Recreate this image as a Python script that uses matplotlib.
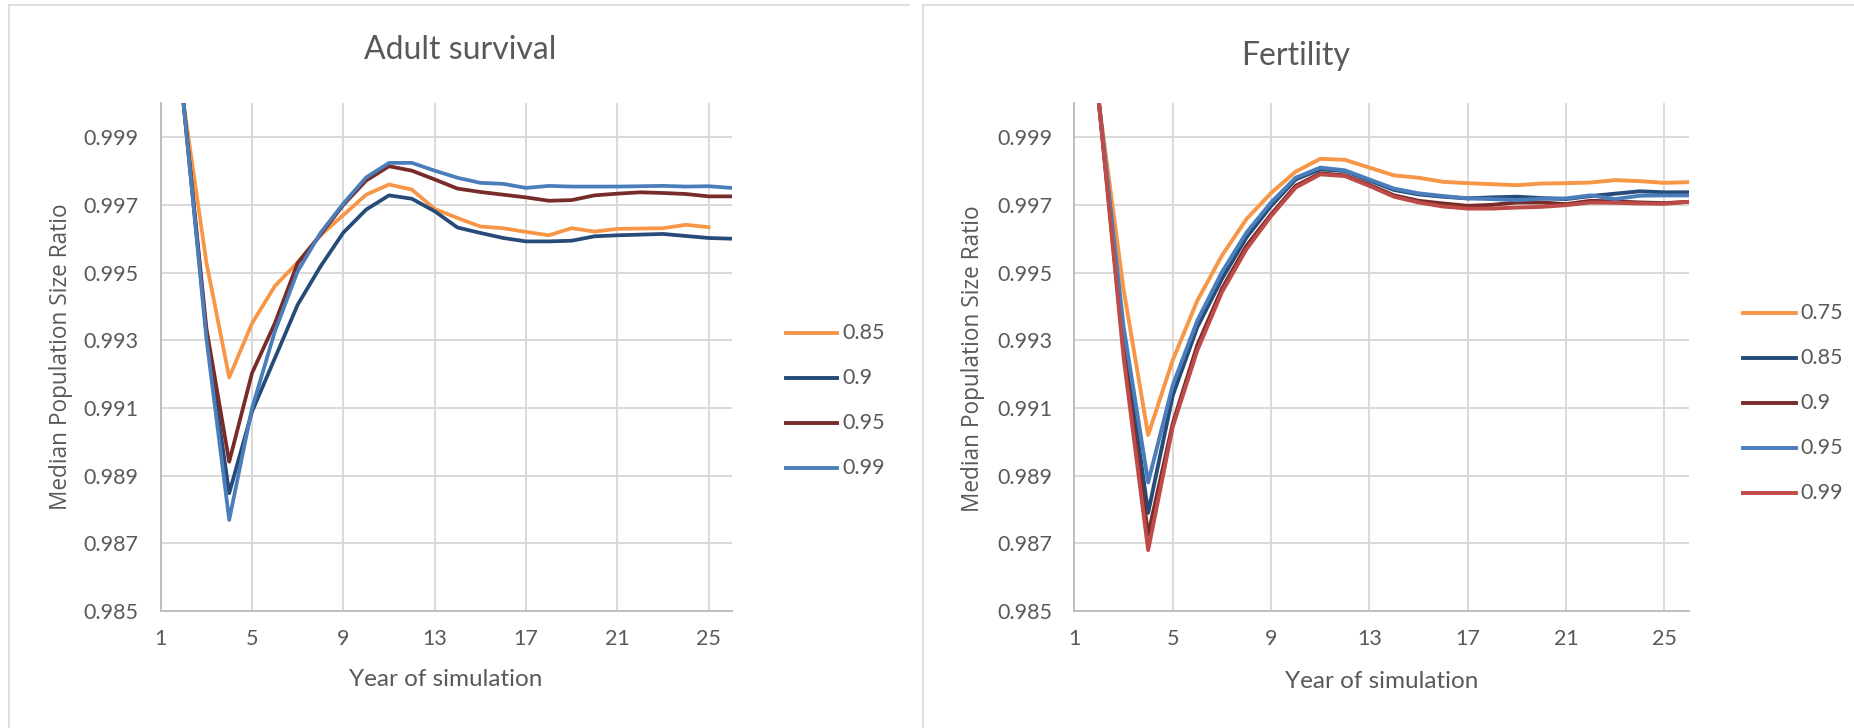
import matplotlib
matplotlib.use("Agg")
import matplotlib.pyplot as plt
from matplotlib.lines import Line2D
import numpy as np

W, H = 1854, 728

# ---- data: median population size ratio per simulation year ----
years = list(range(2, 27))

survival_labels = ["0.85", "0.9", "0.95", "0.99"]
surv_085 = [1.0, 0.9953, 0.9919, 0.9935, 0.9946, 0.9953, 0.9961, 0.9967, 0.9973,
            0.9976, 0.99745, 0.99688, 0.99661, 0.99636, 0.99631, 0.9962, 0.9961,
            0.99631, 0.99621, 0.99629, 0.9963, 0.99631, 0.99641, 0.99634]
surv_090 = [1.0, 0.99321, 0.98848, 0.99089, 0.99247, 0.99405, 0.99518, 0.99618,
            0.99686, 0.99728, 0.99718, 0.99681, 0.99633, 0.99617, 0.99602, 0.99592,
            0.99592, 0.99594, 0.99607, 0.9961, 0.99612, 0.99614, 0.99608, 0.99602,
            0.996]
surv_095 = [1.0, 0.99336, 0.98941, 0.99203, 0.9935, 0.99528, 0.99612, 0.997,
            0.99772, 0.99814, 0.99801, 0.99775, 0.99748, 0.99738, 0.9973, 0.99722,
            0.99712, 0.99714, 0.99728, 0.99733, 0.99737, 0.99735, 0.99732, 0.99725,
            0.99725]
surv_099 = [1.0, 0.99306, 0.98769, 0.99099, 0.99326, 0.99504, 0.99617, 0.99704,
            0.99781, 0.99824, 0.99824, 0.99801, 0.9978, 0.99765, 0.99762, 0.9975,
            0.99756, 0.99754, 0.99754, 0.99754, 0.99755, 0.99756, 0.99754, 0.99755,
            0.9975]

fertility_labels = ["0.75", "0.85", "0.9", "0.95", "0.99"]
fert_075 = [1.0, 0.9945, 0.9902, 0.99241, 0.99417, 0.9955, 0.99658, 0.99735,
            0.99798, 0.99836, 0.99833, 0.9981, 0.99787, 0.9978, 0.99768, 0.99764,
            0.99761, 0.99758, 0.99763, 0.99764, 0.99766, 0.99773, 0.9977, 0.99765,
            0.99767]
fert_085 = [1.0, 0.9931, 0.9879, 0.99137, 0.99339, 0.99481, 0.99604, 0.99697,
            0.99775, 0.99805, 0.998, 0.99772, 0.99744, 0.99731, 0.99724, 0.99719,
            0.99722, 0.99724, 0.9972, 0.99717, 0.99726, 0.99733, 0.9974, 0.99737,
            0.99737]
fert_090 = [1.0, 0.9927, 0.98725, 0.99054, 0.99285, 0.99452, 0.99579, 0.99672,
            0.99756, 0.99793, 0.99787, 0.99759, 0.99728, 0.99712, 0.99704, 0.99697,
            0.997, 0.99707, 0.99707, 0.99702, 0.99712, 0.9971, 0.99707, 0.99705,
            0.99709]
fert_095 = [1.0, 0.9934, 0.9888, 0.99167, 0.99358, 0.99501, 0.99618, 0.99707,
            0.9978, 0.9981, 0.99802, 0.99775, 0.99748, 0.99734, 0.99726, 0.99719,
            0.99717, 0.99714, 0.99718, 0.99719, 0.99728, 0.99717, 0.99727, 0.99728,
            0.99728]
fert_099 = [1.0, 0.9925, 0.9868, 0.99044, 0.9927, 0.99442, 0.99569, 0.99667,
            0.99751, 0.9979, 0.99785, 0.99756, 0.99724, 0.99707, 0.99695, 0.99689,
            0.99689, 0.99692, 0.99694, 0.99699, 0.99707, 0.99706, 0.99704, 0.99703,
            0.99709]

x_ticks = [1, 5, 9, 13, 17, 21, 25]
y_ticks = [0.985, 0.987, 0.989, 0.991, 0.993, 0.995, 0.997, 0.999]

ORANGE = "#F79646"
NAVY = "#264B78"
MAROON = "#772C2A"
BLUE = "#4A7EBB"
RED = "#BE4B48"
GRID = "#D9D9D9"
TEXT = "#595959"
FONT = "Lato"


def px_rect(x0, y0, x1, y1):
    """Pixel box (top-left origin) -> figure fraction rect."""
    return [x0 / W, 1 - y1 / H, (x1 - x0) / W, (y1 - y0) / H]


def fx(x):
    return x / W


def fy(y):
    return 1 - y / H


def setup_axes(ax):
    ax.set_xlim(1, 26)
    ax.set_ylim(0.985, 1.0)
    ax.set_xticks(x_ticks)
    ax.set_yticks(y_ticks)
    ax.set_yticklabels([f"{v:.3f}" for v in y_ticks])
    ax.grid(True, color=GRID, lw=1.4)
    ax.set_axisbelow(True)
    for side in ["top", "right"]:
        ax.spines[side].set_visible(False)
    for side in ["left", "bottom"]:
        ax.spines[side].set_color("#BFBFBF")
        ax.spines[side].set_linewidth(1.4)
    ax.tick_params(axis="both", length=0, labelsize=15.5, labelcolor=TEXT)
    ax.tick_params(axis="y", pad=16)
    ax.tick_params(axis="x", pad=13)
    for lab in ax.get_xticklabels() + ax.get_yticklabels():
        lab.set_fontfamily(FONT)


def draw_legend(fig, labels, colors, x0, x1, y_first, step=45):
    for i, (lab, col) in enumerate(zip(labels, colors)):
        y = y_first + i * step
        fig.add_artist(Line2D([fx(x0), fx(x1)], [fy(y), fy(y)], color=col, lw=2.8,
                              transform=fig.transFigure))
        fig.text(fx(x1 + 5), fy(y), lab, fontsize=15.5, color=TEXT, family=FONT,
                 ha="left", va="center")


fig = plt.figure(figsize=(W / 100, H / 100), dpi=100)

# panel frames
for (x0, x1) in [(9, 909), (922.7, 1854)]:
    fig.add_artist(Line2D([fx(x0), fx(x1)], [fy(5), fy(5)], color=GRID, lw=1.2,
                          transform=fig.transFigure))
    fig.add_artist(Line2D([fx(x0), fx(x0)], [fy(5), fy(728)], color=GRID, lw=1.2,
                          transform=fig.transFigure))

# ---- left panel: adult survival ----
ax1 = fig.add_axes(px_rect(160.7, 103.3, 731.5, 611))
setup_axes(ax1)
surv_series = [surv_085, surv_090, surv_095, surv_099]
surv_colors = [ORANGE, NAVY, MAROON, BLUE]
for vals, col in zip(surv_series, surv_colors):
    ax1.plot(years[:len(vals)], vals, color=col, lw=2.7, solid_joinstyle="round")

fig.text(fx(460), fy(50), "Adult survival", fontsize=23, color=TEXT, family=FONT,
         ha="center", va="center")
fig.text(fx(446), fy(680), "Year of simulation", fontsize=17.5, color=TEXT,
         family=FONT, ha="center", va="center")
fig.text(fx(61), fy(357), "Median Population Size Ratio", fontsize=16.3, color=TEXT,
         family="Open Sans", rotation=90, ha="center", va="center")
draw_legend(fig, survival_labels, surv_colors, 786, 837, 333.3)

# ---- right panel: fertility ----
ax2 = fig.add_axes(px_rect(1074.4, 103.3, 1689, 611))
setup_axes(ax2)
fert_series = [fert_075, fert_085, fert_090, fert_095, fert_099]
fert_colors = [ORANGE, NAVY, MAROON, BLUE, RED]
for vals, col in zip(fert_series, fert_colors):
    ax2.plot(years[:len(vals)], vals, color=col, lw=2.8, solid_joinstyle="round")

fig.text(fx(1296), fy(56), "Fertility", fontsize=23, color=TEXT, family=FONT,
         ha="center", va="center")
fig.text(fx(1381.6), fy(682), "Year of simulation", fontsize=17.5, color=TEXT,
         family=FONT, ha="center", va="center")
fig.text(fx(973.5), fy(359), "Median Population Size Ratio", fontsize=16.3, color=TEXT,
         family="Open Sans", rotation=90, ha="center", va="center")
draw_legend(fig, fertility_labels, fert_colors, 1743, 1795.5, 313.4)

fig.savefig("out.png", dpi=100, facecolor="white")
